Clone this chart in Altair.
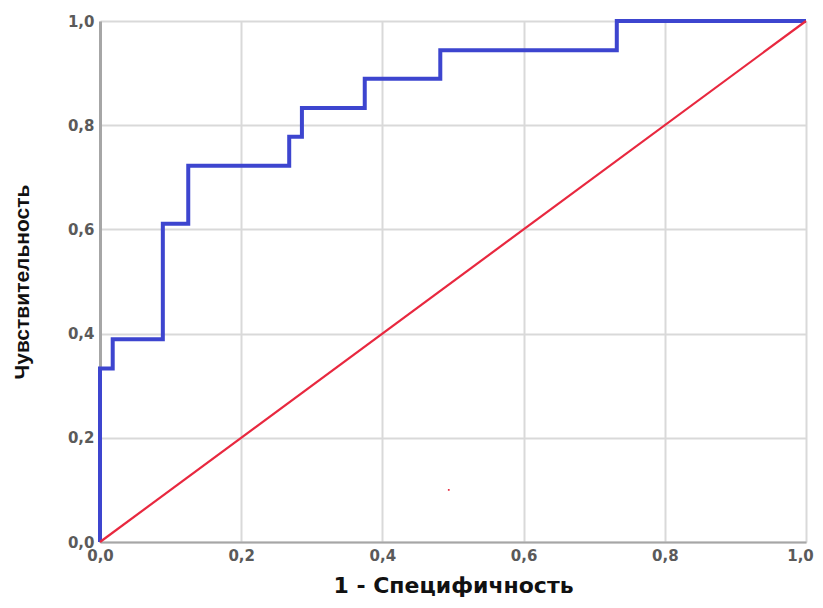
import altair as alt
import pandas as pd

# ROC curve step points (1 - specificity, sensitivity)
fpr = [0.0, 0.0, 0.018, 0.089, 0.125, 0.268, 0.286, 0.375, 0.482, 0.732, 1.0]
tpr = [0.0, 0.333, 0.389, 0.611, 0.722, 0.778, 0.833, 0.889, 0.944, 1.0, 1.0]

# reference diagonal
diag_x = [0.0, 1.0]
diag_y = [0.0, 1.0]

# stray dot seen in the picture
dot_x = [0.494]
dot_y = [0.10]

tick_values = [0.0, 0.2, 0.4, 0.6, 0.8, 1.0]

roc = pd.DataFrame({"x": fpr, "y": tpr, "i": list(range(len(fpr)))})
diag = pd.DataFrame({"x": diag_x, "y": diag_y})
dot = pd.DataFrame({"x": dot_x, "y": dot_y})

label_expr = "replace(format(datum.value, '.1f'), '.', ',')"

xscale = alt.Scale(domain=[0, 1], nice=False, zero=False)
yscale = alt.Scale(domain=[0, 1], nice=False, zero=False)

xaxis = alt.Axis(
    title="1 - Специфичность", values=tick_values,
    labelExpr=label_expr, grid=True, gridColor="#d9d9d9", gridWidth=2,
    ticks=False, domainColor="#a6a6a6", domainWidth=2, labelFlush=False,
    labelOffset={"condition": {"test": "datum.value == 1", "value": -6}, "value": 0},
    labelColor="#5a5a5a", labelFontSize=15, labelFont="DejaVu Sans",
    labelFontWeight="bold", labelPadding=6,
    titleFont="DejaVu Sans", titleFontSize=22, titleFontWeight="bold",
    titleColor="#111111", titlePadding=12,
)
yaxis = alt.Axis(
    title="Чувствительность", values=tick_values,
    labelExpr=label_expr, grid=True, gridColor="#d9d9d9", gridWidth=2,
    ticks=False, domainColor="#a6a6a6", domainWidth=3, labelFlush=False,
    labelColor="#5a5a5a", labelFontSize=15, labelFont="DejaVu Sans",
    labelFontWeight="bold", labelPadding=6,
    titleFont="Liberation Sans", titleFontSize=21, titleFontWeight="bold",
    titleColor="#111111", titlePadding=35,
)

roc_line = alt.Chart(roc).mark_line(
    interpolate="step-after", color="#3d45cf", strokeWidth=4, clip=False
).encode(
    x=alt.X("x:Q", scale=xscale, axis=xaxis),
    y=alt.Y("y:Q", scale=yscale, axis=yaxis),
    order="i:Q",
)

diag_line = alt.Chart(diag).mark_line(color="#e8283f", strokeWidth=2.2).encode(
    x=alt.X("x:Q", scale=xscale),
    y=alt.Y("y:Q", scale=yscale),
)

dot_pt = alt.Chart(dot).mark_square(color="#e8283f", size=3, opacity=1).encode(
    x=alt.X("x:Q", scale=xscale),
    y=alt.Y("y:Q", scale=yscale),
)

chart = alt.layer(roc_line, diag_line, dot_pt).properties(
    width=706, height=521,
    autosize=alt.AutoSizeParams(type="none"),
    padding={"left": 92, "top": 13, "right": 9, "bottom": 57},
).configure_view(stroke=None)

chart.save("out.html", embed_options={"renderer": "svg", "actions": False})
